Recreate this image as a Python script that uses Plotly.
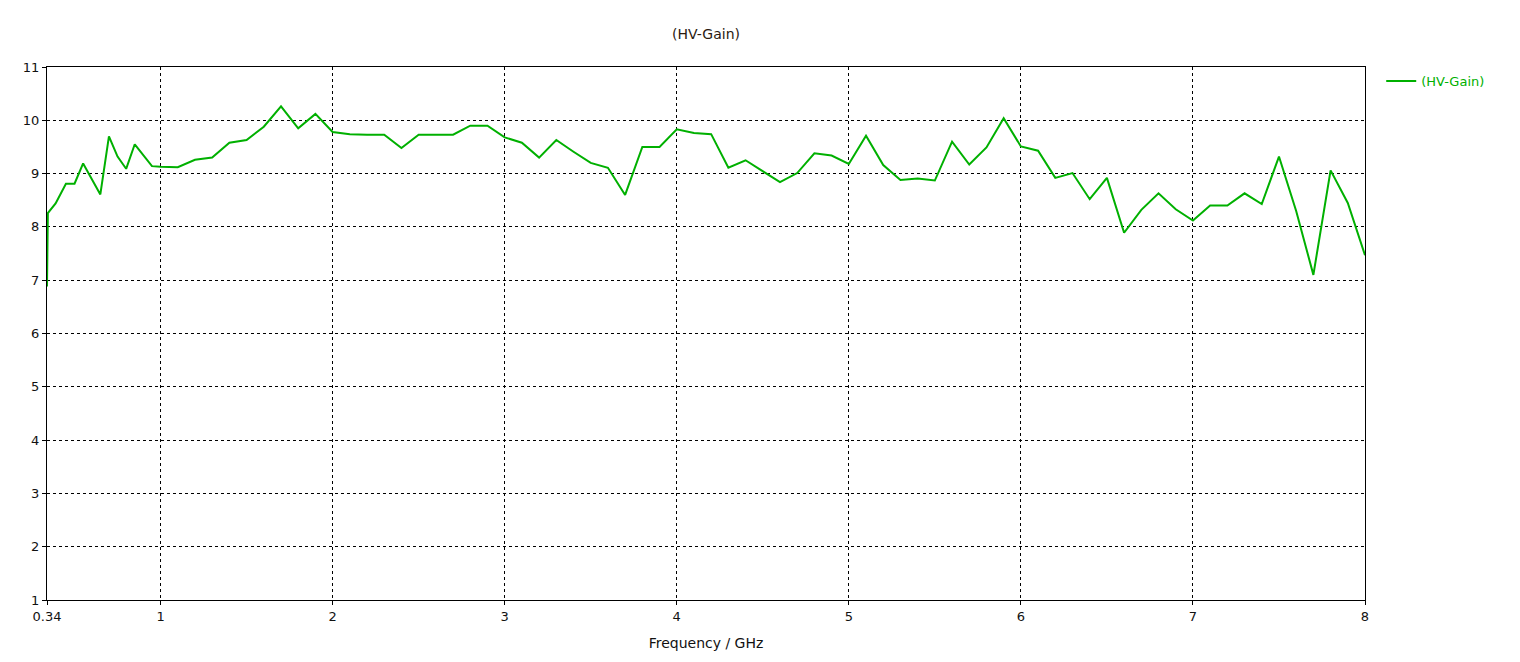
import plotly.graph_objects as go

TITLE = '(HV-Gain)'

# frequency points (GHz)
freq = [0.340, 0.342, 0.345, 0.39, 0.45, 0.50, 0.55, 0.65, 0.70, 0.75,
        0.80, 0.85, 0.90, 0.95, 1.0, 1.1, 1.2, 1.3, 1.4, 1.5,
        1.6, 1.7, 1.8, 1.9, 2.0, 2.1, 2.2, 2.3, 2.4, 2.5,
        2.6, 2.7, 2.8, 2.9, 3.0, 3.1, 3.2, 3.3, 3.4, 3.5,
        3.6, 3.7, 3.8, 3.9, 4.0, 4.1, 4.2, 4.3, 4.4, 4.5,
        4.6, 4.7, 4.8, 4.9, 5.0, 5.1, 5.2, 5.3, 5.4, 5.5,
        5.6, 5.7, 5.8, 5.9, 6.0, 6.1, 6.2, 6.3, 6.4, 6.5,
        6.6, 6.7, 6.8, 6.9, 7.0, 7.1, 7.2, 7.3, 7.4, 7.5,
        7.6, 7.7, 7.8, 7.9, 8.0]

# HV gain values
gain = [6.88, 7.60, 8.26, 8.44, 8.81, 8.81, 9.19, 8.61, 9.70, 9.32,
        9.09, 9.55, 9.35, 9.14, 9.13, 9.12, 9.26, 9.30, 9.58, 9.63,
        9.88, 10.26, 9.85, 10.12, 9.78, 9.74, 9.73, 9.73, 9.48, 9.73,
        9.73, 9.73, 9.90, 9.90, 9.68, 9.58, 9.30, 9.63, 9.41, 9.20,
        9.11, 8.60, 9.50, 9.50, 9.83, 9.76, 9.74, 9.11, 9.25, 9.04,
        8.84, 9.01, 9.38, 9.34, 9.18, 9.71, 9.16, 8.88, 8.91, 8.87,
        9.60, 9.17, 9.49, 10.04, 9.51, 9.43, 8.92, 9.01, 8.52, 8.92,
        7.89, 8.32, 8.63, 8.33, 8.12, 8.40, 8.40, 8.63, 8.43, 9.32,
        8.30, 7.10, 9.06, 8.45, 7.47]

X_TICKS = [0.34, 1, 2, 3, 4, 5, 6, 7, 8]
X_LABELS = ['0.34', '1', '2', '3', '4', '5', '6', '7', '8']
Y_TICKS = list(range(1, 12))

FONT = 'DejaVu Sans'
GREEN = '#00b000'

fig = go.Figure()
fig.add_trace(go.Scatter(
    x=freq, y=gain, mode='lines', name=TITLE,
    line=dict(color=GREEN, width=2),
))

# the page body adds an 8px offset, margins compensate for it
fig.update_layout(
    width=1520, height=662,
    margin=dict(l=39, r=163, t=59, b=70),
    paper_bgcolor='white', plot_bgcolor='white',
    font=dict(family=FONT, size=13, color='#111111'),
    title=dict(text=TITLE, x=0.5, xref='paper', xanchor='center',
               y=1 - 26 / 662, yanchor='middle',
               font=dict(family=FONT, size=14, color='#2a1a10')),
    showlegend=True,
    legend=dict(x=1.0123, y=1.002, xanchor='left', yanchor='top',
                font=dict(color=GREEN, size=13), bgcolor='rgba(0,0,0,0)',
                itemwidth=30),
)

axis_style = dict(
    showline=True, mirror=True, linecolor='black', linewidth=1,
    showgrid=True, gridcolor='black', gridwidth=1, griddash='3px,3px',
    zeroline=False, ticks='outside', ticklen=4, tickcolor='black',
    tickfont=dict(size=13),
)

fig.update_xaxes(
    range=[0.34, 8], tickvals=X_TICKS, ticktext=X_LABELS,
    title=dict(text='Frequency / GHz', standoff=15, font=dict(size=14)),
    **axis_style
)
fig.update_yaxes(range=[1, 11], tickvals=Y_TICKS, **axis_style)

fig.write_html('out.html')
